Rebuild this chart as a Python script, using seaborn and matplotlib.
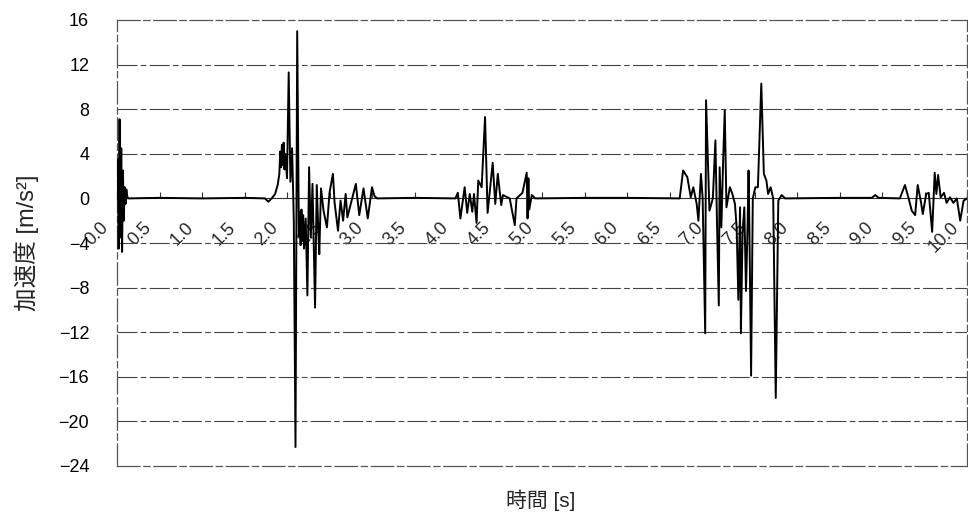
import numpy as np
import pandas as pd
import matplotlib
matplotlib.use("Agg")
import matplotlib.pyplot as plt
import matplotlib.transforms as mtransforms
import seaborn as sns

# Acceleration record, read as (time [s], acceleration [m/s^2]) pairs per segment
t_start = [0.00, 0.01, 0.02, 0.03, 0.04, 0.05, 0.06, 0.07, 0.08, 0.09, 0.10, 0.11, 0.12, 0.13]
a_start = [0.0, 3.5, -4.5, 7.1, -3.5, 4.5, -4.8, 2.5, -2.0, 1.0, -0.5, 0.8, 0.2, 0.0]

t_quiet1 = [0.5, 1.0, 1.5, 1.74, 1.78, 1.82]
a_quiet1 = [0.05, 0.0, 0.05, 0.0, -0.3, 0.0]

t_burst2 = [1.86, 1.89, 1.91, 1.92, 1.93, 1.94, 1.95, 1.96, 1.97, 1.98, 2.00, 2.02, 2.04,
            2.06, 2.08, 2.10, 2.12, 2.14, 2.15, 2.16, 2.17, 2.18, 2.19, 2.20, 2.22, 2.24,
            2.26, 2.28, 2.30, 2.33, 2.35, 2.37, 2.38, 2.40, 2.43, 2.47, 2.50, 2.54, 2.56,
            2.60, 2.63, 2.66, 2.69, 2.71, 2.76, 2.81, 2.85, 2.90, 2.95, 3.00, 3.03, 3.06]
a_burst2 = [0.4, 1.2, 2.2, 4.2, 2.8, 4.8, 3.0, 5.0, 2.6, 4.0, 1.8, 11.3, 1.5,
            4.5, -2.0, -22.3, 15.0, -3.4, -1.2, -4.2, -1.0, -3.8, -1.5, -4.5, -1.8, -8.7,
            2.8, -3.5, 1.3, -9.8, 1.2, -3.2, -5.0, 0.9, -1.1, -2.6, 0.5, 2.2, -0.4,
            -2.9, -0.2, -2.0, 0.4, -1.7, -0.2, 1.3, -1.5, 0.9, -1.8, 1.0, 0.2, 0.0]

t_quiet2 = [3.5, 3.98]
a_quiet2 = [0.05, 0.0]

t_burst3 = [4.01, 4.04, 4.09, 4.12, 4.15, 4.18, 4.20, 4.23, 4.25, 4.29, 4.33, 4.36, 4.42,
            4.45, 4.48, 4.52, 4.54, 4.62, 4.68, 4.70, 4.77, 4.82, 4.83, 4.84, 4.85, 4.88,
            4.92]
a_burst3 = [0.5, -1.8, 1.0, -1.3, 0.4, -1.2, 0.4, -2.2, 1.6, 1.0, 7.3, -1.3, 3.2,
            -0.5, 2.2, -0.6, 0.3, 0.0, -2.4, 0.0, 0.5, 2.3, -1.8, 1.8, -1.0, 0.3,
            0.0]

t_quiet3 = [5.5, 6.0, 6.55]
a_quiet3 = [0.05, 0.05, 0.0]

t_burst4 = [6.62, 6.66, 6.71, 6.75, 6.78, 6.82, 6.84, 6.87, 6.89, 6.92, 6.93, 6.97, 7.01,
            7.04, 7.06, 7.08, 7.09, 7.11, 7.13, 7.15, 7.17, 7.21, 7.24, 7.27, 7.29, 7.31,
            7.33, 7.34, 7.36, 7.38, 7.40, 7.42, 7.43, 7.44, 7.46, 7.48, 7.51, 7.54, 7.58,
            7.61, 7.64, 7.66, 7.69, 7.72, 7.75, 7.78, 7.82, 7.86]
a_burst4 = [0.0, 2.5, 1.9, 0.1, 1.0, -0.5, -2.0, 2.2, 0.0, -12.1, 8.8, -1.1, 0.0,
            5.2, -2.6, -9.6, 2.8, -2.6, 3.1, 7.9, -0.8, 1.0, 0.4, -0.5, -2.6, -9.1,
            -0.8, -12.1, -3.0, -0.8, -8.3, -2.0, 2.5, -2.6, -15.9, 0.0, 1.0, 1.0, 10.3,
            2.2, 1.6, 0.4, 1.0, 0.0, -17.9, -0.2, 0.3, 0.0]

t_quiet4 = [8.5, 8.88, 8.92, 8.96, 9.21]
a_quiet4 = [0.05, 0.05, 0.3, 0.05, 0.0]

t_burst5 = [9.27, 9.31, 9.35, 9.39, 9.42, 9.46, 9.48, 9.52, 9.55, 9.59, 9.62, 9.64, 9.66,
            9.69, 9.73, 9.76, 9.80, 9.84, 9.88, 9.92, 9.96, 10.0]
a_burst5 = [1.2, 0.1, -1.1, -1.5, 1.2, -0.4, -1.4, 0.4, 0.5, -3.0, 2.3, 0.4, 2.1,
            0.1, 0.5, -0.4, 0.1, -0.4, 0.0, -2.0, -0.2, 0.0]

y_ticks = [16, 12, 8, 4, 0, -4, -8, -12, -16, -20, -24]
x_ticks = [0.0, 0.5, 1.0, 1.5, 2.0, 2.5, 3.0, 3.5, 4.0, 4.5, 5.0, 5.5, 6.0, 6.5,
           7.0, 7.5, 8.0, 8.5, 9.0, 9.5, 10.0]
x_title = "時間 [s]"
y_title = "加速度 [m/s²]"

time = t_start + t_quiet1 + t_burst2 + t_quiet2 + t_burst3 + t_quiet3 + t_burst4 + t_quiet4 + t_burst5
accel = a_start + a_quiet1 + a_burst2 + a_quiet2 + a_burst3 + a_quiet3 + a_burst4 + a_quiet4 + a_burst5
df = pd.DataFrame({"time": time, "accel": accel})

sns.set_theme(style="white")
plt.rcParams["font.family"] = ["Liberation Sans", "Noto Sans CJK JP", "DejaVu Sans"]
plt.rcParams["axes.unicode_minus"] = True

fig = plt.figure(figsize=(9.68, 5.15), dpi=100)
ax = fig.add_axes([117 / 968, 1 - 466 / 515, 850 / 968, 446 / 515])

sns.lineplot(data=df, x="time", y="accel", ax=ax, color="black", linewidth=1.4,
             estimator=None, sort=False, zorder=3)

ax.set_xlim(0, 10)
ax.set_ylim(-24, 16)
ax.set_yticks(y_ticks)
ax.set_yticklabels([f"{v}".replace("-", "\u2212") for v in y_ticks])
ax.tick_params(axis="y", length=0, pad=20, labelsize=13, colors="black")
ax.tick_params(axis="x", bottom=False, labelbottom=False)
ax.set_xlabel("")
ax.set_ylabel(y_title, fontsize=17)
ax.yaxis.set_label_coords(-0.092, 0.5)

# dashed horizontal grid
for v in y_ticks:
    if v in (16, -24, 0):
        continue
    ax.axhline(v, color="#444444", linewidth=0.8, linestyle=(0, (18, 3, 5, 3)), zorder=1)

for side in ["top", "bottom", "left", "right"]:
    ax.spines[side].set_visible(True)
    ax.spines[side].set_color("#555555")
    ax.spines[side].set_linewidth(0.9)
    ax.spines[side].set_linestyle((0, (18, 3, 5, 3)))

# category axis crossing at zero, labels hanging below it
zero_frac = (0 - (-24)) / (16 - (-24))
sec = ax.secondary_xaxis(zero_frac)
sec.set_alignment("bottom")
sec.set_xticks(x_ticks)
sec.set_xticklabels([f"{v:.1f}" for v in x_ticks], rotation=45, ha="right", va="top",
                    fontsize=13)
sec.tick_params(axis="x", which="both", bottom=True, top=False, labelbottom=True,
                labeltop=False, direction="in", length=4, width=0.8, color="#333333", pad=15)
sec.spines["bottom"].set_visible(True)
sec.spines["top"].set_visible(False)
sec.spines["bottom"].set_color("#333333")
sec.spines["bottom"].set_linewidth(0.8)
shift = mtransforms.ScaledTranslation(-5 / 100, 0, fig.dpi_scale_trans)
for lab in sec.get_xticklabels():
    lab.set_transform(lab.get_transform() + shift)

fig.text(541 / 968, 1 - 500 / 515, x_title, ha="center", va="center", fontsize=15)

fig.savefig("out.png", dpi=100, facecolor="white")
